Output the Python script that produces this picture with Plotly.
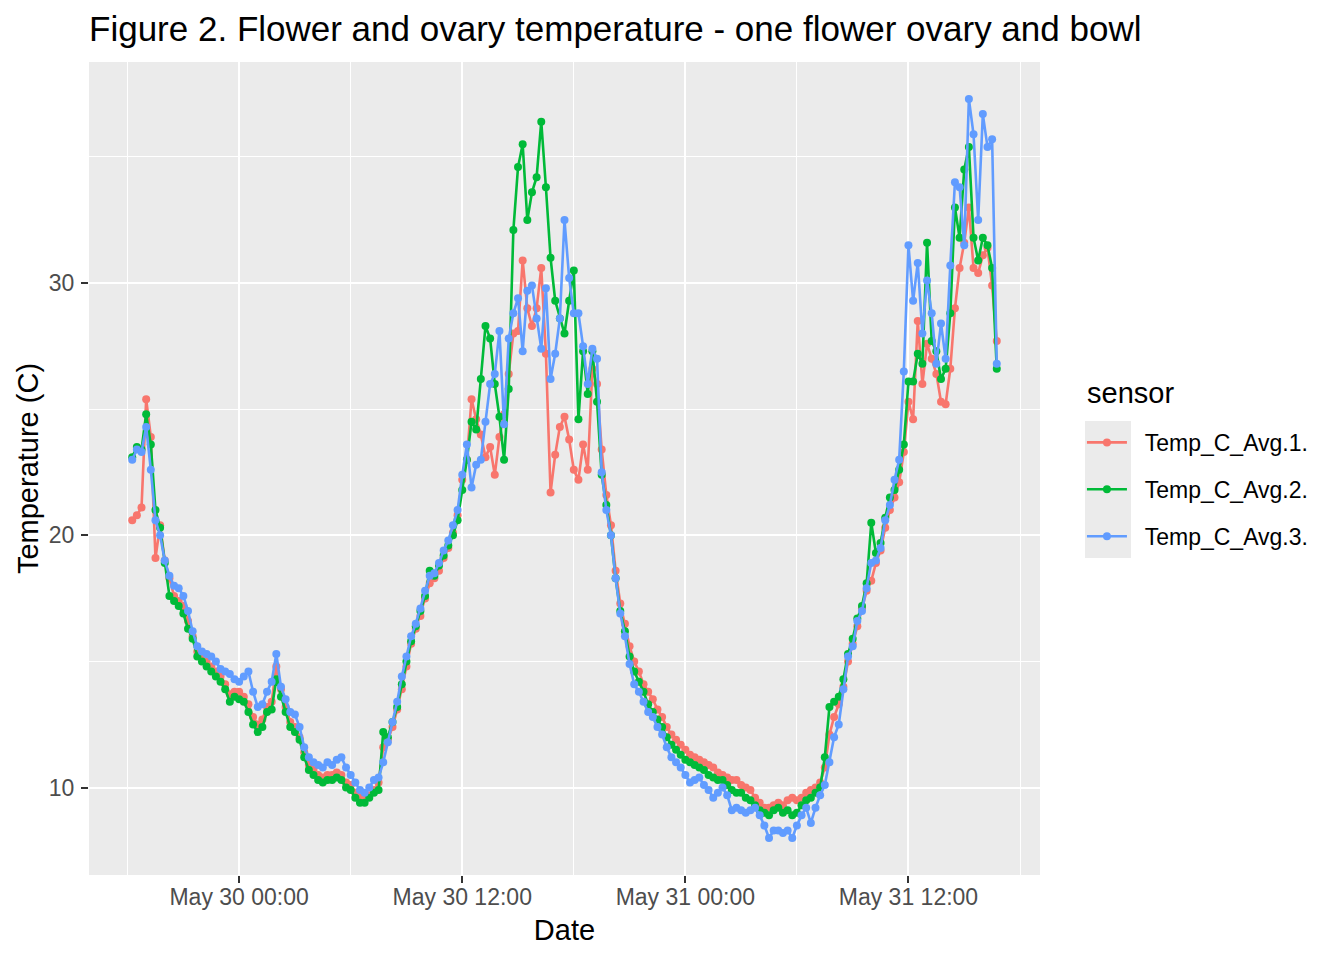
import pandas as pd
import plotly.graph_objects as go

# readings every 15 minutes, from May 29 18:15 to May 31 16:45
times = pd.date_range("2019-05-29 18:15", periods=187, freq="15min")

temp_avg_1 = [
    20.6, 20.8, 21.1, 25.4, 23.9, 19.1, 20.4, 19.0, 18.3, 17.6, 17.4, 17.2,
    16.6, 16.0, 15.4, 15.2, 15.0, 14.8, 14.6, 14.4, 14.1, 13.7, 13.8,
    13.8, 13.6, 13.3, 12.8, 12.5, 12.7, 13.2, 13.4, 14.8, 13.9, 13.2, 12.6,
    12.4, 12.0, 11.4, 10.9, 10.7, 10.5, 10.4, 10.5, 10.5, 10.6, 10.5, 10.2,
    10.1, 9.8, 9.6, 9.6, 9.7, 9.9, 10.2, 11.6, 11.9, 12.4, 13.1, 13.9,
    14.8, 15.7, 16.3, 16.8, 17.5, 18.1, 18.3, 18.6, 19.1, 19.5, 20.1, 20.8,
    22.2, 23.0, 25.4, 24.6, 24.0, 23.1, 23.5, 22.4, 23.9, 24.8, 26.4, 28.0,
    28.1, 30.9, 29.0, 28.3, 29.0, 30.6, 27.2, 21.7, 23.2, 24.3, 24.7, 23.8,
    22.6, 22.2, 23.6, 22.6, 26.6, 26.0, 23.4, 21.6, 20.4, 18.6, 17.3, 16.5,
    15.6, 15.0, 14.6, 14.1,
    13.8, 13.5, 13.1, 12.8, 12.4, 12.1, 11.9, 11.7, 11.5, 11.3, 11.2, 11.1,
    11.0, 10.9, 10.8, 10.6, 10.5, 10.4, 10.3, 10.3, 10.1, 10.0, 9.9, 9.6,
    9.4, 9.2, 9.2, 9.3, 9.4, 9.3, 9.5, 9.6, 9.5, 9.6, 9.8, 9.9,
    10.0, 10.2, 10.8, 12.1, 12.8, 13.3, 14.0, 15.0, 15.7, 16.4, 17.1, 17.8,
    18.2, 18.9, 19.4, 20.3, 21.0, 21.5, 22.1, 23.3,
    25.3, 24.6, 28.5, 26.0, 27.6, 27.0, 26.4, 25.3, 25.2, 26.6, 29.0, 30.6,
    31.6, 33.0, 30.6, 30.4, 31.1, 31.4, 29.9, 27.7,
]

temp_avg_2 = [
    23.1, 23.5, 23.4, 24.8, 23.6, 21.0, 20.3, 18.9, 17.6, 17.4, 17.2, 16.9,
    16.3, 15.9, 15.2, 15.0, 14.8, 14.6, 14.4, 14.2, 13.9, 13.4, 13.6,
    13.5, 13.4, 13.0, 12.5, 12.2, 12.4, 13.0, 13.1, 14.3, 13.6, 13.0, 12.4,
    12.2, 11.9, 11.2, 10.7, 10.5, 10.3, 10.2, 10.3, 10.3, 10.4, 10.3, 10.0,
    9.9, 9.6, 9.4, 9.4, 9.6, 9.8, 9.9, 12.2, 12.0, 12.6, 13.2, 14.1,
    15.0, 15.8, 16.4, 17.0, 17.6, 18.6, 18.4, 18.8, 19.2, 19.6, 20.0, 20.6,
    21.8, 23.0, 24.5, 24.2, 26.2, 28.3, 27.8, 26.0, 24.7, 23.0, 25.8, 32.1,
    34.6, 35.5, 32.5, 33.6, 34.2, 36.4, 33.8, 31.0, 29.3, 28.6, 28.0, 29.3,
    30.5, 24.6, 27.3, 25.6, 27.3, 25.3, 22.4, 21.2, 20.0, 18.3, 17.0, 16.2,
    15.2, 14.6, 14.2, 13.8,
    13.3, 13.0, 12.7, 12.4, 12.0, 11.7, 11.5, 11.3, 11.1, 11.0, 10.9, 10.8,
    10.7, 10.5, 10.4, 10.3, 10.3, 10.1, 9.9, 9.8, 9.8, 9.6, 9.5, 9.3,
    9.1, 9.0, 8.9, 9.1, 9.2, 9.0, 9.1, 8.9, 9.0, 9.3, 9.5, 9.6,
    9.8, 10.0, 11.2, 13.2, 13.4, 13.6, 14.3, 15.3, 15.9, 16.7, 17.2, 18.1,
    20.5, 19.3, 19.7, 20.7, 21.5, 21.8, 22.6, 23.6,
    26.1, 26.1, 27.2, 26.8, 31.6, 27.7, 27.3, 26.2, 26.6, 28.8, 33.0, 31.8,
    34.5, 35.4, 31.8, 30.9, 31.8, 31.5, 30.6, 26.6,
]

temp_avg_3 = [
    23.0, 23.4, 23.3, 24.3, 22.6, 20.6, 20.0, 19.0, 18.4, 18.0, 17.9, 17.6,
    17.0, 16.2, 15.6, 15.4, 15.3, 15.2, 15.0, 14.7, 14.6, 14.5, 14.3,
    14.2, 14.4, 14.6, 13.8, 13.2, 13.3, 13.8, 14.2, 15.3, 14.0, 13.5, 13.0,
    12.9, 12.4, 11.6, 11.2, 11.0, 10.9, 10.8, 11.0, 10.9, 11.1, 11.2, 10.8,
    10.5, 10.2, 9.9, 9.8, 10.0, 10.3, 10.4, 11.0, 11.8, 12.6, 13.4, 14.4,
    15.2, 16.0, 16.5, 17.1, 17.8, 18.4, 18.5, 18.9, 19.4, 19.8, 20.4, 21.0,
    22.4, 23.6, 21.9, 22.8, 23.0, 24.5, 26.0, 26.4, 28.1, 24.4, 27.8, 28.8,
    29.4, 27.3, 29.7, 29.9, 28.6, 27.4, 29.8, 26.2, 27.2, 28.6, 32.5, 30.2,
    28.8, 28.8, 27.5, 26.0, 27.4, 27.0, 22.5, 21.0, 20.0, 18.3, 16.9, 16.0,
    14.9, 14.1, 13.8, 13.4,
    13.0, 12.8, 12.4, 12.1, 11.6, 11.2, 11.0, 10.8, 10.5, 10.2, 10.3, 10.4,
    10.1, 9.9, 9.6, 9.8, 10.0, 9.7, 9.1, 9.2, 9.1, 9.0, 9.1, 9.2,
    8.9, 8.5, 8.0, 8.3, 8.3, 8.2, 8.3, 8.0, 8.5, 8.9, 9.2, 8.6,
    9.2, 9.7, 10.1, 11.0, 12.0, 12.5, 13.9, 15.2, 15.6, 16.6, 17.0, 17.9,
    18.9, 19.0, 19.5, 20.6, 21.2, 22.2, 23.0, 26.5,
    31.5, 29.3, 30.8, 28.0, 30.1, 28.8, 26.8, 28.4, 27.0, 30.7, 34.0, 33.8,
    31.5, 37.3, 35.9, 32.5, 36.7, 35.4, 35.7, 26.8,
]

sensors = ["Temp_C_Avg.1.", "Temp_C_Avg.2.", "Temp_C_Avg.3."]
colors = ["#F8766D", "#00BA38", "#619CFF"]

font = "Liberation Sans, Arial, Helvetica, sans-serif"

fig = go.Figure()
for i, (name, vals) in enumerate(zip(sensors, [temp_avg_1, temp_avg_2, temp_avg_3])):
    fig.add_trace(go.Scatter(
        x=times, y=vals, name="\u00a0\u00a0" + name, mode="lines+markers",
        line=dict(color=colors[i], width=2.6),
        marker=dict(color=colors[i], size=8),
        legendgroup=name,
    ))

# ggplot-style 5% padding on both axes
span = times[-1] - times[0]
x_range = [times[0] - span * 0.05, times[-1] + span * 0.05]
all_vals = temp_avg_1 + temp_avg_2 + temp_avg_3
lo, hi = min(all_vals), max(all_vals)
y_range = [lo - (hi - lo) * 0.05, hi + (hi - lo) * 0.05]

# grey box behind the legend keys
fig.add_shape(type="rect", xref="paper", yref="paper",
              x0=1.0473, x1=1.0957, y0=0.3899, y1=0.5584,
              fillcolor="#EBEBEB", line_width=0, layer="below")

# legend title
fig.add_annotation(text="sensor", xref="paper", yref="paper", x=1.0473, y=0.5929,
                   xanchor="left", yanchor="middle", showarrow=False,
                   font=dict(size=29, color="black"))

# the page body has an 8px margin, so the margins are shifted by that much
fig.update_layout(
    width=1344, height=960,
    margin=dict(l=81, r=312, t=54, b=93),
    paper_bgcolor="white", plot_bgcolor="#EBEBEB",
    font=dict(family=font, color="black"),
    title=dict(text="Figure 2. Flower and ovary temperature - one flower ovary and bowl",
               x=0.0603, xanchor="left", y=0.978, yanchor="middle",
               font=dict(size=35, color="black")),
    showlegend=True,
    legend=dict(font=dict(size=23), x=1.0441, xanchor="left", y=0.5585, yanchor="top",
                tracegroupgap=14, bgcolor="rgba(0,0,0,0)", itemwidth=40),
)

fig.update_xaxes(
    type="date", range=x_range,
    tick0="2019-05-30 00:00", dtick=12 * 3600 * 1000, tickformat="%b %d %H:%M",
    showgrid=True, gridcolor="white", gridwidth=2.4,
    minor=dict(dtick=6 * 3600 * 1000, tick0="2019-05-30 00:00", showgrid=True,
               gridcolor="white", gridwidth=1.2),
    ticks="outside", ticklen=7, tickwidth=2, tickcolor="#333333",
    ticklabelstandoff=-6,
    tickfont=dict(size=23, color="#4D4D4D"),
    title=dict(text="Date", font=dict(size=29), standoff=11),
    zeroline=False, showline=False,
)
fig.update_yaxes(
    range=y_range, tick0=0, dtick=10,
    showgrid=True, gridcolor="white", gridwidth=2.4,
    minor=dict(dtick=5, tick0=0, showgrid=True, gridcolor="white", gridwidth=1.2),
    ticks="outside", ticklen=7, tickwidth=2, tickcolor="#333333",
    ticklabelstandoff=2,
    tickfont=dict(size=23, color="#4D4D4D"),
    title=dict(text="Temperature (C)", font=dict(size=29), standoff=1),
    zeroline=False, showline=False,
)

fig.write_html("out.html")
